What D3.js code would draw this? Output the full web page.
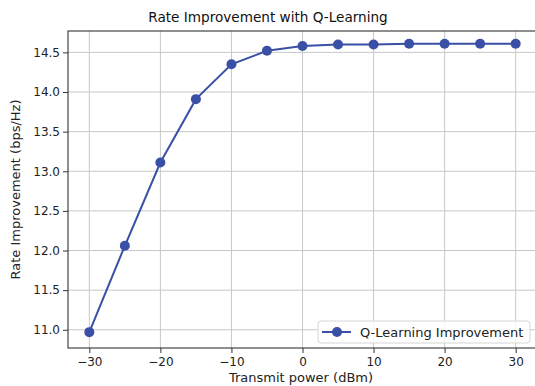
<!DOCTYPE html>
<html>
<head>
<meta charset="utf-8">
<script src="https://cdn.jsdelivr.net/npm/d3@7"></script>
<style>
  html, body { margin: 0; padding: 0; background: #fff; }
  svg { display: block; font-family: "DejaVu Sans", sans-serif; }
</style>
</head>
<body>
<svg id="chart" width="535" height="386"></svg>
<script>
// Transmit power levels (dBm) and the rate improvement achieved at each
const powerDbm = [-30, -25, -20, -15, -10, -5, 0, 5, 10, 15, 20, 25, 30];
const rateImprovement = [10.97, 12.06, 13.11, 13.91, 14.35, 14.52, 14.58, 14.60, 14.60, 14.61, 14.61, 14.61, 14.61];
const xTicks = [-30, -20, -10, 0, 10, 20, 30];
const yTicks = [11.0, 11.5, 12.0, 12.5, 13.0, 13.5, 14.0, 14.5];
const seriesName = "Q-Learning Improvement";
const titleText = "Rate Improvement with Q-Learning";
const xLabel = "Transmit power (dBm)";
const yLabel = "Rate Improvement (bps/Hz)";

const color = "#3a4fa6";
const margin = { left: 68, top: 31, bottom: 38 };
const W = 535, H = 386;
const plotRight = 537;

const svg = d3.select("#chart");

const x = d3.scaleLinear().domain([-33, 33]).range([margin.left, plotRight]);
const y = d3.scaleLinear().domain([10.77, 14.77]).range([H - margin.bottom, margin.top]);

const minus = s => String(s).replace("-", "\u2212");

// grid
const grid = svg.append("g").attr("stroke", "#c8c8c8").attr("stroke-width", 1);
grid.selectAll(".gx").data(xTicks).join("line")
  .attr("x1", d => x(d)).attr("x2", d => x(d))
  .attr("y1", y.range()[1]).attr("y2", y.range()[0]);
grid.selectAll(".gy").data(yTicks).join("line")
  .attr("x1", x.range()[0]).attr("x2", x.range()[1])
  .attr("y1", d => y(d)).attr("y2", d => y(d));

// axes
const xAxis = d3.axisBottom(x).tickValues(xTicks).tickSize(5).tickPadding(4)
  .tickFormat(d => minus(d3.format("d")(d)));
const yAxis = d3.axisLeft(y).tickValues(yTicks).tickSize(5).tickPadding(3)
  .tickFormat(d3.format(".1f"));

const gx = svg.append("g").attr("transform", `translate(0,${y.range()[0]})`).call(xAxis);
const gy = svg.append("g").attr("transform", `translate(${x.range()[0]},0)`).call(yAxis);
[gx, gy].forEach(g => {
  g.select(".domain").remove();
  g.selectAll(".tick line").attr("stroke", "#333");
  g.selectAll(".tick text").attr("fill", "#222").style("font-size", "12px")
    .style("font-family", "DejaVu Sans, sans-serif");
});

// frame
svg.append("rect")
  .attr("x", x.range()[0]).attr("y", y.range()[1])
  .attr("width", x.range()[1] - x.range()[0])
  .attr("height", y.range()[0] - y.range()[1])
  .attr("fill", "none").attr("stroke", "#333").attr("stroke-width", 1.1);

// series
const line = d3.line().x((d, i) => x(powerDbm[i])).y(d => y(d));
svg.append("path").datum(rateImprovement)
  .attr("d", line).attr("fill", "none")
  .attr("stroke", color).attr("stroke-width", 2);
svg.append("g").selectAll("circle").data(rateImprovement).join("circle")
  .attr("cx", (d, i) => x(powerDbm[i])).attr("cy", d => y(d))
  .attr("r", 5).attr("fill", color);

// title and axis labels
svg.append("text").attr("x", 268).attr("y", 22).attr("text-anchor", "middle")
  .style("font-size", "13.6px").attr("fill", "#111").text(titleText);
svg.append("text").attr("x", 301).attr("y", 382).attr("text-anchor", "middle")
  .style("font-size", "13px").attr("fill", "#222").text(xLabel);
svg.append("text")
  .attr("transform", `translate(20,${(y.range()[0] + y.range()[1]) / 2}) rotate(-90)`)
  .attr("text-anchor", "middle")
  .style("font-size", "13px").attr("fill", "#222").text(yLabel);

// legend
const lg = svg.append("g").attr("transform", "translate(318,321)");
lg.append("rect").attr("width", 212).attr("height", 22).attr("rx", 3)
  .attr("fill", "#fff").attr("fill-opacity", 0.85)
  .attr("stroke", "#d6d6d6");
lg.append("line").attr("x1", 4).attr("x2", 33).attr("y1", 11).attr("y2", 11)
  .attr("stroke", color).attr("stroke-width", 2);
lg.append("circle").attr("cx", 19).attr("cy", 11).attr("r", 5).attr("fill", color);
lg.append("text").attr("x", 42).attr("y", 15.5)
  .style("font-size", "13px").attr("fill", "#222").text(seriesName);
</script>
</body>
</html>
